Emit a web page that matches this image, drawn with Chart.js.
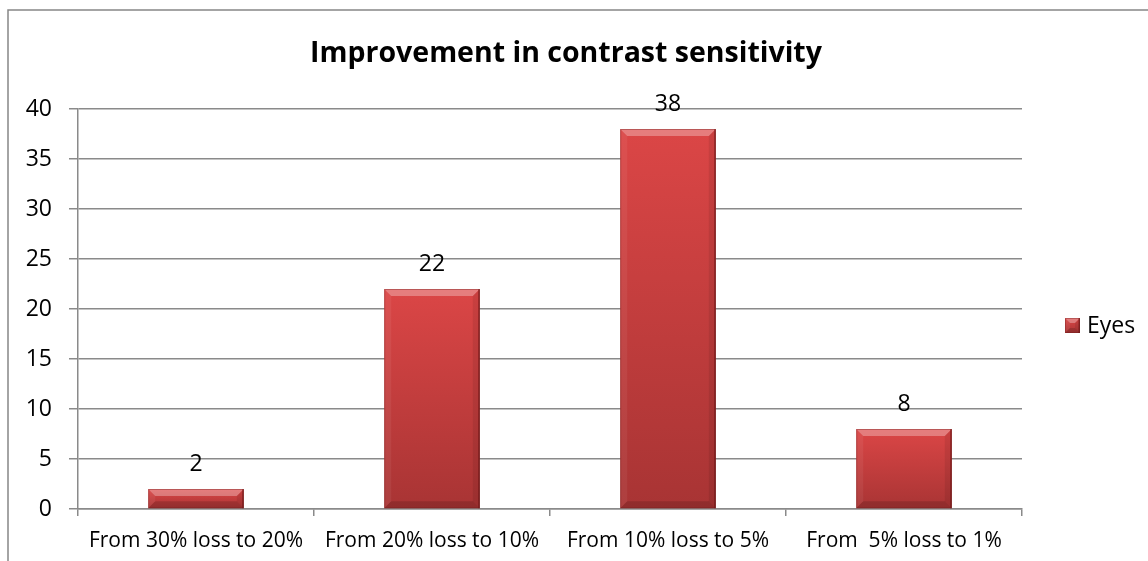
<!DOCTYPE html>
<html>
<head>
<meta charset="utf-8">
<script src="https://cdn.jsdelivr.net/npm/chart.js@4.4.1/dist/chart.umd.min.js"></script>
<style>
  html, body { margin: 0; padding: 0; background: #fff; }
  canvas { display: block; }
</style>
</head>
<body>
<canvas id="chart" width="1148" height="561"></canvas>
<script>
// --- te dhenat ---
const categories = ["From 30% loss to 20%", "From 20% loss to 10%", "From 10% loss to 5%", "From  5% loss to 1%"];
const eyes = [2, 22, 38, 8];
const yMin = 0;
const yMax = 40;
const yStep = 5;
const chartTitle = "Improvement in contrast sensitivity";
const seriesName = "Eyes";

const FONT = "'Open Sans', 'DejaVu Sans', sans-serif";
const GRID = "#8a8a8a";

function redGradient(ctx, top, bottom) {
  const g = ctx.createLinearGradient(0, top, 0, bottom);
  g.addColorStop(0, "#db4646");
  g.addColorStop(1, "#a83434");
  return g;
}

// bevel si ne Excel
function bevel(ctx, left, top, right, bottom, size) {
  const b = Math.min(size, (bottom - top) / 2, (right - left) / 2);
  const poly = (pts, fill) => {
    ctx.beginPath();
    ctx.moveTo(pts[0][0], pts[0][1]);
    pts.slice(1).forEach(p => ctx.lineTo(p[0], p[1]));
    ctx.closePath();
    ctx.fillStyle = fill;
    ctx.fill();
  };
  poly([[left, top], [right, top], [right - b, top + b], [left + b, top + b]], "rgba(255,255,255,0.3)");
  poly([[left, top], [left + b, top + b], [left + b, bottom - b], [left, bottom]], "rgba(255,255,255,0.06)");
  poly([[right, top], [right - b, top + b], [right - b, bottom - b], [right, bottom]], "rgba(0,0,0,0.08)");
  poly([[left, bottom], [left + b, bottom - b], [right - b, bottom - b], [right, bottom]], "rgba(0,0,0,0.14)");
  ctx.fillStyle = "rgba(90,15,15,0.55)";
  ctx.fillRect(right - 1.5, top, 1.5, bottom - top);
  ctx.strokeStyle = "rgba(120,30,30,0.4)";
  ctx.lineWidth = 1;
  ctx.strokeRect(left + 0.5, top + 0.5, right - left - 1, bottom - top - 1);
}

// --- plugin: sfondi, korniza, titulli ---
const framePlugin = {
  id: "frame",
  beforeDraw(chart) {
    const ctx = chart.ctx;
    ctx.save();
    ctx.fillStyle = "#fff";
    ctx.fillRect(0, 0, chart.width, chart.height);
    ctx.strokeStyle = "#878787";
    ctx.lineWidth = 1.5;
    ctx.strokeRect(8, 10, chart.width + 20, chart.height + 20);
    // titulli
    ctx.fillStyle = "#000";
    ctx.font = "bold 28.5px " + FONT;
    ctx.textAlign = "center";
    ctx.textBaseline = "alphabetic";
    ctx.fillText(chartTitle, 566, 62);
    ctx.restore();
  }
};

// --- plugin: bevel + vlerat mbi shtylla + legjenda ---
const barExtras = {
  id: "barExtras",
  afterDatasetsDraw(chart) {
    const ctx = chart.ctx;
    const meta = chart.getDatasetMeta(0);
    ctx.save();
    meta.data.forEach((bar, i) => {
      const p = bar.getProps(["x", "y", "base", "width"], true);
      bevel(ctx, p.x - p.width / 2, p.y, p.x + p.width / 2, p.base, 7);
      ctx.fillStyle = "#000";
      ctx.font = "23px " + FONT;
      ctx.textAlign = "center";
      ctx.textBaseline = "middle";
      ctx.fillText(String(chart.data.datasets[0].data[i]), p.x, p.y - 25);
    });
    ctx.restore();
  },
  afterDraw(chart) {
    const ctx = chart.ctx;
    const ds = chart.data.datasets[0];
    const sx = 1065, sy = 318, s = 15;
    ctx.save();
    ctx.fillStyle = redGradient(ctx, sy, sy + s);
    ctx.fillRect(sx, sy, s, s);
    bevel(ctx, sx, sy, sx + s, sy + s, 5);
    ctx.fillStyle = "#000";
    ctx.font = "23px " + FONT;
    ctx.textAlign = "left";
    ctx.textBaseline = "middle";
    ctx.fillText(ds.label, 1087, sy + s / 2 + 1);
    ctx.restore();
  }
};

new Chart(document.getElementById("chart"), {
  type: "bar",
  data: {
    labels: categories,
    datasets: [{
      label: seriesName,
      data: eyes,
      backgroundColor: c => {
        const ys = c.chart.scales.y;
        if (!ys || c.raw === undefined) return "#c83c3c";
        const top = ys.getPixelForValue(c.raw);
        const base = ys.getPixelForValue(0);
        if (!Number.isFinite(top) || !Number.isFinite(base) || top === base) return "#c83c3c";
        return redGradient(c.chart.ctx, top, base);
      },
      borderWidth: 0,
      categoryPercentage: 1,
      barPercentage: 0.405
    }]
  },
  options: {
    responsive: false,
    animation: false,
    layout: { padding: { top: 109, right: 126, bottom: 0, left: 0 } },
    plugins: {
      legend: { display: false },
      tooltip: { enabled: false },
      title: { display: false }
    },
    scales: {
      x: {
        grid: { drawOnChartArea: false, offset: true, color: GRID, lineWidth: 1.5, tickLength: 7 },
        border: { color: GRID, width: 1.5 },
        ticks: { color: "#000", font: { family: FONT, size: 21 }, padding: 12, maxRotation: 0, autoSkip: false },
        afterFit: s => { s.height = 52; }
      },
      y: {
        min: yMin,
        max: yMax,
        grid: { color: GRID, lineWidth: 1.5, tickLength: 9 },
        border: { color: GRID, width: 1.5 },
        ticks: { stepSize: yStep, color: "#000", font: { family: FONT, size: 23 }, padding: 17 },
        afterFit: s => { s.width = 78; }
      }
    }
  },
  plugins: [framePlugin, barExtras]
});
</script>
</body>
</html>
